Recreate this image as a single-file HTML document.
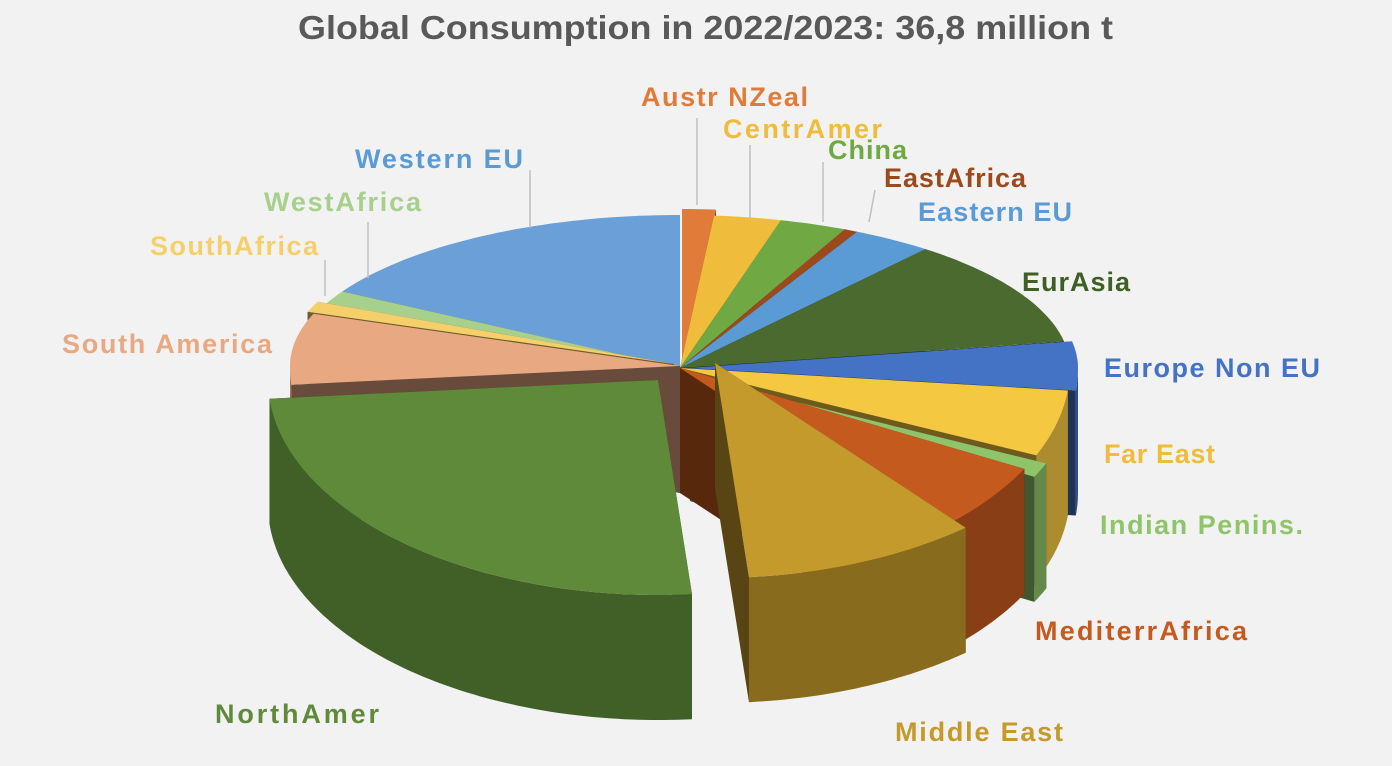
<!DOCTYPE html>
<html><head><meta charset="utf-8"><style>
html,body{margin:0;padding:0;background:#f2f2f2;}
svg{display:block;}
text{font-family:"Liberation Sans",sans-serif;font-weight:bold;}
</style></head><body>
<svg id="s" width="1392" height="766" viewBox="0 0 1392 766" xmlns="http://www.w3.org/2000/svg">
<rect width="1392" height="766" fill="#f2f2f2"/>
<g id="pie"></g>
<g stroke="#bfbfbf" stroke-width="1.5" fill="none">
<line x1="697" y1="118" x2="697" y2="205"/>
<line x1="750" y1="145" x2="750" y2="218"/>
<line x1="823" y1="162" x2="823" y2="222"/>
<line x1="875" y1="190" x2="869" y2="222"/>
<line x1="530" y1="170" x2="530" y2="228"/>
<line x1="368" y1="222" x2="368" y2="278"/>
<line x1="325" y1="260" x2="325" y2="296"/>
</g>
<text x="298" y="39" textLength="815" lengthAdjust="spacingAndGlyphs" font-size="33" fill="#595959">Global Consumption in 2022/2023: 36,8 million t</text>
<g font-size="27" lengthAdjust="spacingAndGlyphs">
<text x="641" y="106" textLength="167" fill="#e07b39">Austr NZeal</text>
<text x="723" y="138" textLength="159" fill="#f0bc3c">CentrAmer</text>
<text x="828" y="159" textLength="79" fill="#70a844">China</text>
<text x="884" y="187" textLength="142" fill="#9c4a1c">EastAfrica</text>
<text x="918" y="221" textLength="154" fill="#5b9bd5">Eastern EU</text>
<text x="1022" y="291" textLength="108" fill="#3f5f25">EurAsia</text>
<text x="1104" y="377" textLength="216" fill="#4472c4">Europe Non EU</text>
<text x="1104" y="463" textLength="111" fill="#f0bc3c">Far East</text>
<text x="1100" y="534" textLength="203" fill="#8fc46a">Indian Penins.</text>
<text x="1035" y="640" textLength="212" fill="#c55a1e">MediterrAfrica</text>
<text x="895" y="741" textLength="168" fill="#c49a2c">Middle East</text>
<text x="215" y="723" textLength="164" fill="#5e8a3a">NorthAmer</text>
<text x="62" y="353" textLength="210" fill="#e8a882">South America</text>
<text x="150" y="255" textLength="168" fill="#f5d06a">SouthAfrica</text>
<text x="264" y="211" textLength="157" fill="#a8d08d">WestAfrica</text>
<text x="355" y="168" textLength="168" fill="#5b9bd5">Western EU</text>
</g>
</svg>
<script>
var cx=680,cy=368,rx=390,D=125;
var S=[
[0,5,"#e07b39",2,-6],
[5,15,"#f0bc3c",0,0],
[15,25,"#70a844",0,0],
[25,27,"#9c4a1c",0,0],
[27,39,"#5b9bd5",0,0],
[39,80,"#4a6a30",0,0],
[80,96,"#4472c4",8,0],
[96,114,"#f5c842",0,0],
[114,118,"#8fc46a",10,8],
[118,140,"#c55a1e",0,0],
[140,175,"#c49a2c",35,-5],
[175,265,"#5e8a3a",-22,12],
[265,290,"#e8a882",0,-2],
[290,294,"#f5d06a",-6,-4],
[294,300,"#a8d08d",0,0],
[300,360,"#6a9fd8",0,0]];
function dk(h,f){var n=parseInt(h.slice(1),16);var r=(n>>16)*f|0,g=((n>>8)&255)*f|0,b=(n&255)*f|0;return "rgb("+r+","+g+","+b+")";}
function P(t,dx,dy,z){var a=t*Math.PI/180;var c=Math.cos(a);var ry=c>=0?153:215;return [cx+dx+rx*Math.sin(a),cy+dy-ry*c+z];}
function arc(t1,t2,dx,dy,z){var s="";for(var t=t1;t<=t2+0.001;t+=1){var p=P(Math.min(t,t2),dx,dy,z);s+=(s?"L":"M")+p[0].toFixed(1)+","+p[1].toFixed(1);}var p=P(t2,dx,dy,z);s+="L"+p[0].toFixed(1)+","+p[1].toFixed(1);return s;}
function arcR(t1,t2,dx,dy,z){var s="";for(var t=t2;t>=t1-0.001;t-=1){var p=P(Math.max(t,t1),dx,dy,z);s+="L"+p[0].toFixed(1)+","+p[1].toFixed(1);}var p=P(t1,dx,dy,z);s+="L"+p[0].toFixed(1)+","+p[1].toFixed(1);return s;}
var order=S.slice().sort(function(a,b){return Math.cos((a[0]+a[1])/360*Math.PI)<Math.cos((b[0]+b[1])/360*Math.PI)?1:-1;});
var out="";
order.forEach(function(s){
 var t1=s[0],t2=s[1],c=s[2],dx=s[3],dy=s[4];
 var c0=[cx+dx,cy+dy];
 [t1,t2].forEach(function(t){var p=P(t,dx,dy,0),q=P(t,dx,dy,D);
  out+='<path d="M'+c0[0]+','+c0[1]+'L'+p[0]+','+p[1]+'L'+q[0]+','+q[1]+'L'+c0[0]+','+(c0[1]+D)+'Z" fill="'+dk(c,0.45)+'"/>';});
 var a=Math.max(t1,90),b=Math.min(t2,270);
 if(b>a){out+='<path d="'+arc(a,b,dx,dy,0)+arcR(a,b,dx,dy,D)+'Z" fill="'+dk(c,0.7)+'"/>';}
 out+='<path d="M'+c0[0]+','+c0[1]+arc(t1,t2,dx,dy,0).replace(/^M/,"L")+'Z" fill="'+c+'"/>';
});
document.getElementById("pie").innerHTML=out;
</script>
</body></html>
